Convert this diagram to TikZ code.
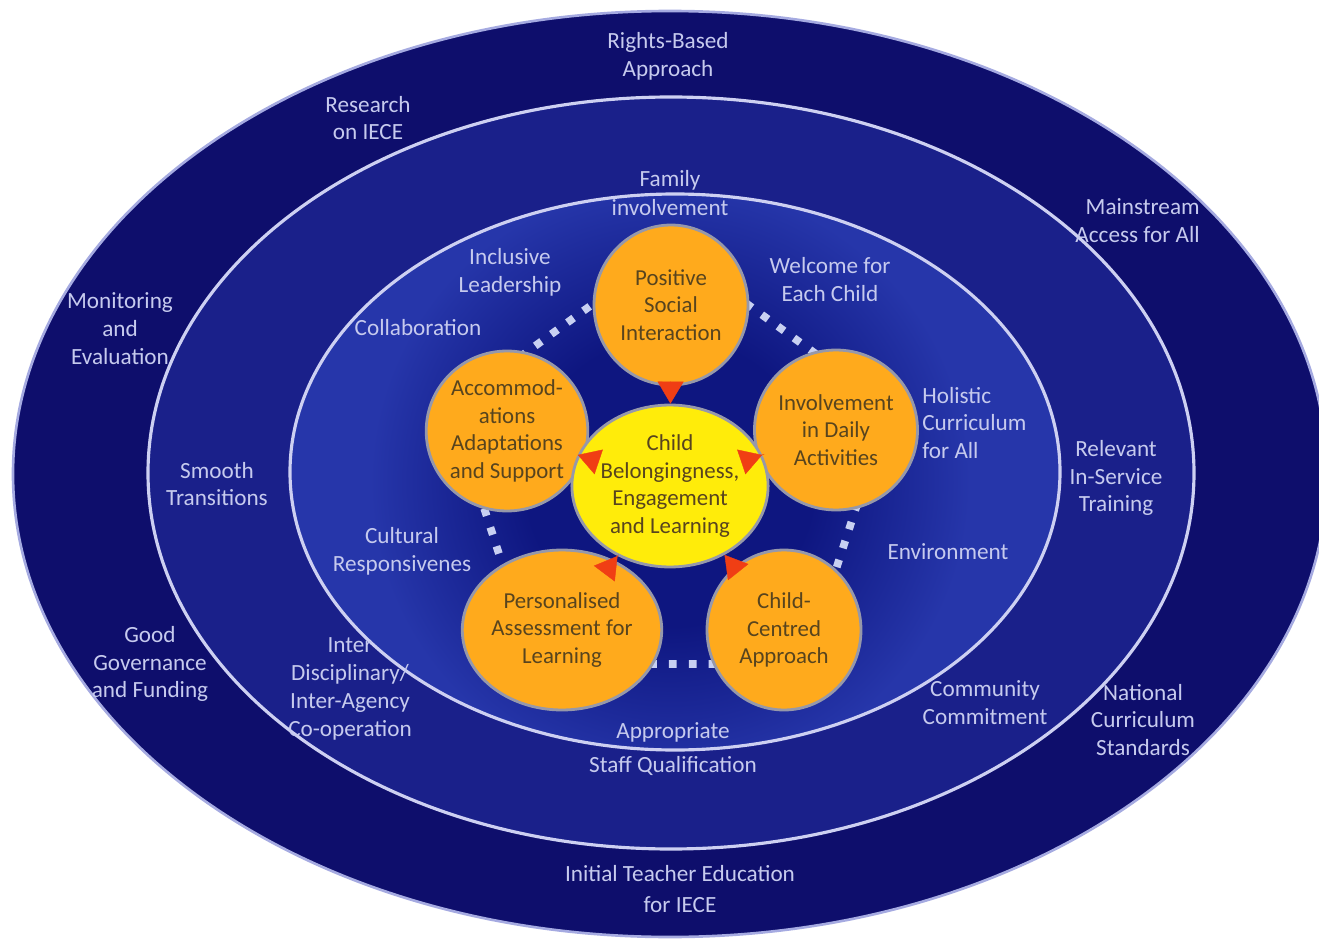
\documentclass[tikz,border=0pt]{standalone}
\usepackage{fontspec}
\setmainfont{Carlito}
\usetikzlibrary{shapes.geometric,arrows.meta}
\definecolor{outerband}{RGB}{14,14,108}
\definecolor{midband}{RGB}{26,32,138}
\definecolor{innerlight}{RGB}{38,54,170}
\definecolor{innerdark}{RGB}{14,22,128}
\definecolor{ringline}{RGB}{205,208,242}
\definecolor{lbltext}{RGB}{198,202,238}
\definecolor{orangefill}{RGB}{255,170,28}
\definecolor{yellowfill}{RGB}{255,236,10}
\definecolor{circline}{RGB}{150,152,170}
\definecolor{circtext}{RGB}{88,68,30}
\definecolor{arrowred}{RGB}{240,62,20}
\definecolor{dotcol}{RGB}{200,208,242}
\definecolor{glow}{RGB}{165,170,225}
\pgfdeclareradialshading{innerglow}{\pgfpoint{0bp}{0bp}}{color(0bp)=(innerdark); color(12bp)=(innerdark); color(25bp)=(innerlight); color(50bp)=(innerlight)}
\begin{document}
\begin{tikzpicture}[x=0.02cm,y=-0.02cm,
  lbl/.style={text=lbltext, align=center, inner sep=0pt, font=\fontsize{13.2}{15.9}\selectfont},
  bubble/.style={ellipse, draw=circline, line width=1.6pt, fill=orangefill, minimum width=3.08cm, minimum height=3.2cm, inner sep=0pt, align=center, text=circtext, font=\fontsize{13}{15.6}\selectfont},
  hub/.style={bubble, fill=yellowfill, minimum width=3.04cm, minimum height=3.24cm},
  ring/.style={draw=ringline, line width=1.8pt},
  dots/.style={draw=dotcol, line width=4.4pt, line cap=butt, dash pattern=on 4.4pt off 6.9pt},
  pointer/.style={draw=arrowred, line width=0.2pt, shorten <=-0.14cm, -{Triangle[width=0.52cm,length=0.44cm]}, fill=arrowred}
]
\useasboundingbox (0,0) rectangle (1319,939);
\clip (0,0) rectangle (1319,939);
\fill[white] (0,0) rectangle (1319,939);
% bands
\fill[outerband, draw=glow, line width=1.5pt] (670,474) ellipse [x radius=657, y radius=463];
\fill[midband] (671,473) ellipse [x radius=523, y radius=376];
\draw[ring] (671,473) ellipse [x radius=523, y radius=376];
\fill[innerlight] (675,472) ellipse [x radius=385, y radius=278];
\begin{scope}
  \clip (675,472) ellipse [x radius=385, y radius=278];
  \shade[shading=innerglow] (670,482) circle [radius=300];
\end{scope}
\draw[ring] (675,472) ellipse [x radius=385, y radius=278];
% dotted pentagon
\draw[dots] (670,248) -- (451.2,406.9) -- (534.8,664.1) -- (805.2,664.1) -- (888.8,406.9) -- cycle;
% bubbles
\node[bubble] (social) at (671,305) {Positive\\Social\\Interaction};
\node[bubble] (accom) at (507,431) {Accommod-\\ations\\Adaptations\\and Support};
\node[bubble] (daily) at (836,430) {Involvement\\in Daily\\Activities};
\node[bubble] (assess) at (562,630) {Personalised\\Assessment for\\Learning};
\node[bubble] (centred) at (784,630) {Child-\\Centred\\Approach};
\node[hub] (child) at (670,486) {Child\\Belongingness,\\Engagement\\and Learning};
% pointers
\draw[pointer] (social) -- (child);
\draw[pointer] (accom) -- (child);
\draw[pointer] (daily) -- (child);
\draw[pointer] (assess) -- (child);
\draw[pointer] (centred) -- (child);
% labels
\node[lbl] (rights) at (668,56) {Rights-Based\\Approach};
\node[lbl] (research) at (368,118) {Research\\on IECE};
\node[lbl, align=right, anchor=east] (mainstream) at (1200,221) {Mainstream\\Access for All};
\node[lbl] (monitoring) at (120,329) {Monitoring\\and\\Evaluation};
\node[lbl] (smooth) at (217,484) {Smooth\\Transitions};
\node[lbl] (relevant) at (1116,478) {Relevant\\In-Service\\Training};
\node[lbl] (good) at (150,664) {Good\\Governance\\and Funding};
\node[lbl] (national) at (1143,720) {National\\Curriculum\\Standards};
\node[lbl] (initial) at (680,889) {Initial Teacher Education\\[2pt]for IECE};
\node[lbl] (inter) at (350,689) {Inter\\Disciplinary/\\Inter-Agency\\Co-operation};
\node[lbl] (family) at (670,193) {Family\\[1pt]involvement};
\node[lbl] (appropriate) at (673,749) {Appropriate\\[3pt]Staff Qualification};
\node[lbl] (community) at (985,703) {Community\\Commitment};
\node[lbl] (inclusive) at (510,272) {Inclusive\\Leadership};
\node[lbl] (welcome) at (830,280) {Welcome for\\Each Child};
\node[lbl] (collab) at (418,328) {Collaboration};
\node[lbl, align=left, anchor=west] (holistic) at (922,423) {Holistic\\Curriculum\\for All};
\node[lbl] (cultural) at (402,551) {Cultural\\Responsivenes};
\node[lbl] (environment) at (948,552) {Environment};
\end{tikzpicture}
\end{document}
